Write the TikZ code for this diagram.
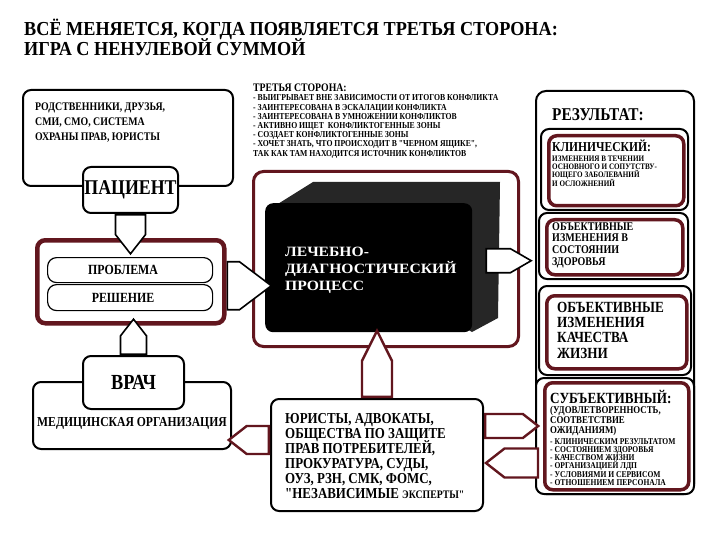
\documentclass[tikz,border=0pt]{standalone}
\usepackage{fontspec}
\setmainfont{Liberation Serif}[FakeStretch=0.85, Ligatures=TeXOff]
\newfontfamily\widefont{Liberation Serif}[FakeStretch=1.1, Ligatures=TeXOff]
\newfontfamily\headfont{Liberation Serif}[FakeStretch=0.92, Ligatures=TeXOff]
\usetikzlibrary{shapes.arrows, positioning, calc}
\definecolor{boxred}{RGB}{98,22,30}
\newcommand{\fsz}[2]{\fontsize{#1}{#2}\selectfont\bfseries\lineskiplimit=-20pt}

\tikzset{
  blkbox/.style={draw, line width=2pt, rounded corners=8pt, fill=white, inner sep=0pt, anchor=north west},
  redbox/.style={draw=boxred, line width=3.5pt, rounded corners=8pt, inner sep=0pt, anchor=north west},
  capsule/.style={draw, line width=1.2pt, rounded corners=9pt, fill=white, inner sep=0pt, anchor=north west, minimum width=165pt},
  txt/.style={inner sep=0pt, align=left, anchor=west},
  harrow/.style={single arrow, draw, fill=white, line width=1.6pt, inner xsep=0pt, single arrow head extend=0pt, single arrow tip angle=76, anchor=tail},
  rarrow/.style={harrow, draw=boxred, line width=2.4pt},
}

\begin{document}
\begin{tikzpicture}[x=1pt, y=-1pt]
\useasboundingbox[fill=white] (0,0) rectangle (720,540);

% title
\node[txt, anchor=north west, font=\headfont\fsz{19.8}{19.5}] (title) at (24,19) {ВСЁ МЕНЯЕТСЯ, КОГДА ПОЯВЛЯЕТСЯ ТРЕТЬЯ СТОРОНА:\\ИГРА С НЕНУЛЕВОЙ СУММОЙ};

% patient side
\node[blkbox, minimum width=210pt, minimum height=96pt] (rel) at (22,89) {};
\node[txt, font=\fsz{11.6}{15}] (reltxt) at (35,123) {РОДСТВЕННИКИ, ДРУЗЬЯ,\\СМИ, СМО, СИСТЕМА\\ОХРАНЫ ПРАВ, ЮРИСТЫ};
\node[blkbox, minimum width=95pt, minimum height=46pt, font=\fsz{21}{21}] (pat) at (82,166) {ПАЦИЕНТ};

% third party
\node[txt, font=\fsz{9.1}{9.2}] (third) at (253,121) {{\fsz{11.5}{10}ТРЕТЬЯ СТОРОНА:}\\- ВЫИГРЫВАЕТ ВНЕ ЗАВИСИМОСТИ ОТ ИТОГОВ КОНФЛИКТА\\- ЗАИНТЕРЕСОВАНА В ЭСКАЛАЦИИ КОНФЛИКТА\\- ЗАИНТЕРЕСОВАНА В УМНОЖЕНИИ КОНФЛИКТОВ\\- АКТИВНО ИЩЕТ \ КОНФЛИКТОГЕННЫЕ ЗОНЫ\\- СОЗДАЕТ КОНФЛИКТОГЕННЫЕ ЗОНЫ\\- ХОЧЕТ ЗНАТЬ, ЧТО ПРОИСХОДИТ В "ЧЕРНОМ ЯЩИКЕ",\\ТАК КАК ТАМ НАХОДИТСЯ ИСТОЧНИК КОНФЛИКТОВ};

% problem / solution
\node[redbox, line width=4.5pt, minimum width=187pt, minimum height=83pt] (prob) at (35,238) {};
\node[capsule, minimum height=25pt, font=\fsz{14}{14}] (pr1) at (47,257) {ПРОБЛЕМА\hspace*{14pt}};
\node[capsule, minimum height=26pt, font=\fsz{14}{14}] (pr2) at (47,284) {РЕШЕНИЕ\hspace*{14pt}};
\node[harrow, rotate=-90, inner ysep=7pt, minimum width=30pt, minimum height=39pt] (a1) at (pat.south) {};

% doctor
\node[blkbox, minimum width=198pt, minimum height=67pt] (org) at (32,381) {};
\node[blkbox, minimum width=101pt, minimum height=53pt, font=\fsz{21.5}{21}] (doc) at (82,355) {ВРАЧ};
\node[inner sep=0pt, font=\fsz{13.7}{13}] (orgtxt) at ([yshift=-7.5pt]org.center) {МЕДИЦИНСКАЯ ОРГАНИЗАЦИЯ};
\node[harrow, rotate=90, inner ysep=7pt, minimum width=26pt, minimum height=35pt] (a2) at (doc.north) {};

% black box
\node[redbox, line width=3pt, minimum width=265pt, minimum height=175pt, rounded corners=10pt] (frame) at (252,170) {};
\fill[black!85] (265,212) -- (313,182) -- (500,182) -- (498,318) -- (472,332) -- cycle;
\node[fill=black, rounded corners=8pt, inner sep=0pt, anchor=north west, minimum width=207pt, minimum height=129pt] (proc) at (265,203) {};
\node[txt, text=white, font=\widefont\fsz{14.2}{17}] (proctxt) at ([xshift=20pt, yshift=-2.5pt]proc.west) {ЛЕЧЕБНО-\\ДИАГНОСТИЧЕСКИЙ\\ПРОЦЕСС};
\node[harrow, inner ysep=9pt, minimum width=48pt, minimum height=44pt, single arrow tip angle=74] (a3) at ([yshift=-4pt]prob.east) {};
\node[harrow, inner ysep=7pt, minimum width=24pt, minimum height=45pt, single arrow tip angle=60] (a4) at ([xshift=13pt, yshift=7pt]proc.east) {};

% results
\node[blkbox, minimum width=158pt, minimum height=403pt, rounded corners=10pt] (col) at (535,90) {};
\node[txt, font=\fsz{18}{17}] (restitle) at (552,115) {РЕЗУЛЬТАТ:};
\node[blkbox, minimum width=147pt, minimum height=81pt] (o1) at (540,128) {};
\node[redbox, minimum width=135pt, minimum height=70pt] (r1) at (547,134) {};
\node[txt, anchor=base west, font=\fsz{13.6}{13}] (t1h) at (552,152) {КЛИНИЧЕСКИЙ:};
\node[txt, anchor=north west, font=\fsz{8.4}{8.3}] (t1) at ([yshift=-3pt]t1h.south west) {ИЗМЕНЕНИЯ В ТЕЧЕНИИ\\ОСНОВНОГО И СОПУТСТВУ-\\ЮЩЕГО ЗАБОЛЕВАНИЙ\\И ОСЛОЖНЕНИЙ};
\node[blkbox, minimum width=149pt, minimum height=66pt] (o2) at (538,212) {};
\node[redbox, minimum width=136pt, minimum height=55pt] (r2) at (545,218) {};
\node[txt, font=\fsz{11.8}{11.7}] (t2) at (552,245) {ОБЪЕКТИВНЫЕ\\ИЗМЕНЕНИЯ В\\СОСТОЯНИИ\\ЗДОРОВЬЯ};
\node[blkbox, minimum width=152pt, minimum height=89pt] (o3) at (538,285) {};
\node[redbox, minimum width=140pt, minimum height=73pt] (r3) at (545,294) {};
\node[txt, font=\fsz{15.5}{15.3}] (t3) at (557,330) {ОБЪЕКТИВНЫЕ\\ИЗМЕНЕНИЯ\\КАЧЕСТВА\\ЖИЗНИ};
\node[blkbox, minimum width=158pt, minimum height=116pt] (o4) at (535,377) {};
\node[redbox, minimum width=144pt, minimum height=107pt] (r4) at (543,381) {};
\node[txt, anchor=base west, font=\fsz{15.5}{13}] (t4h) at (550,403) {СУБЪЕКТИВНЫЙ:};
\node[txt, anchor=north west, font=\fsz{10.4}{10}] (t4a) at ([yshift=-3pt]t4h.south west) {(УДОВЛЕТВОРЕННОСТЬ,\\СООТВЕТСТВИЕ\\ОЖИДАНИЯМ)};
\node[txt, anchor=north west, font=\fsz{8.9}{8.2}] (t4) at ([yshift=-2pt]t4a.south west) {- КЛИНИЧЕСКИМ РЕЗУЛЬТАТОМ\\- СОСТОЯНИЕМ ЗДОРОВЬЯ\\- КАЧЕСТВОМ ЖИЗНИ\\- ОРГАНИЗАЦИЕЙ ЛДП\\- УСЛОВИЯМИ И СЕРВИСОМ\\- ОТНОШЕНИЕМ ПЕРСОНАЛА};

% control bodies
\node[blkbox, minimum width=212pt, minimum height=112pt] (jur) at (270,398) {};
\node[txt, font=\fsz{15.2}{15}] (jurtxt) at (285,456) {ЮРИСТЫ, АДВОКАТЫ,\\ОБЩЕСТВА ПО ЗАЩИТЕ\\ПРАВ ПОТРЕБИТЕЛЕЙ,\\ПРОКУРАТУРА, СУДЫ,\\ОУЗ, РЗН, СМК, ФОМС,\\"НЕЗАВИСИМЫЕ {\fsz{11.5}{15}ЭКСПЕРТЫ"}};
\node[rarrow, rotate=90, inner ysep=9pt, minimum width=30pt, minimum height=66pt, single arrow tip angle=53] (a5) at (jur.north) {};
\node[rarrow, rotate=180, inner ysep=7pt, minimum width=28pt, minimum height=40pt] (a6) at ([yshift=15pt]jur.west) {};
\node[rarrow, inner ysep=5.5pt, minimum width=24pt, minimum height=53pt] (a7) at ([yshift=29pt]jur.east) {};
\node[rarrow, rotate=180, inner ysep=5.5pt, minimum width=29pt, minimum height=52pt, anchor=tip] (a8) at ([yshift=-8pt]jur.east) {};
\end{tikzpicture}
\end{document}
